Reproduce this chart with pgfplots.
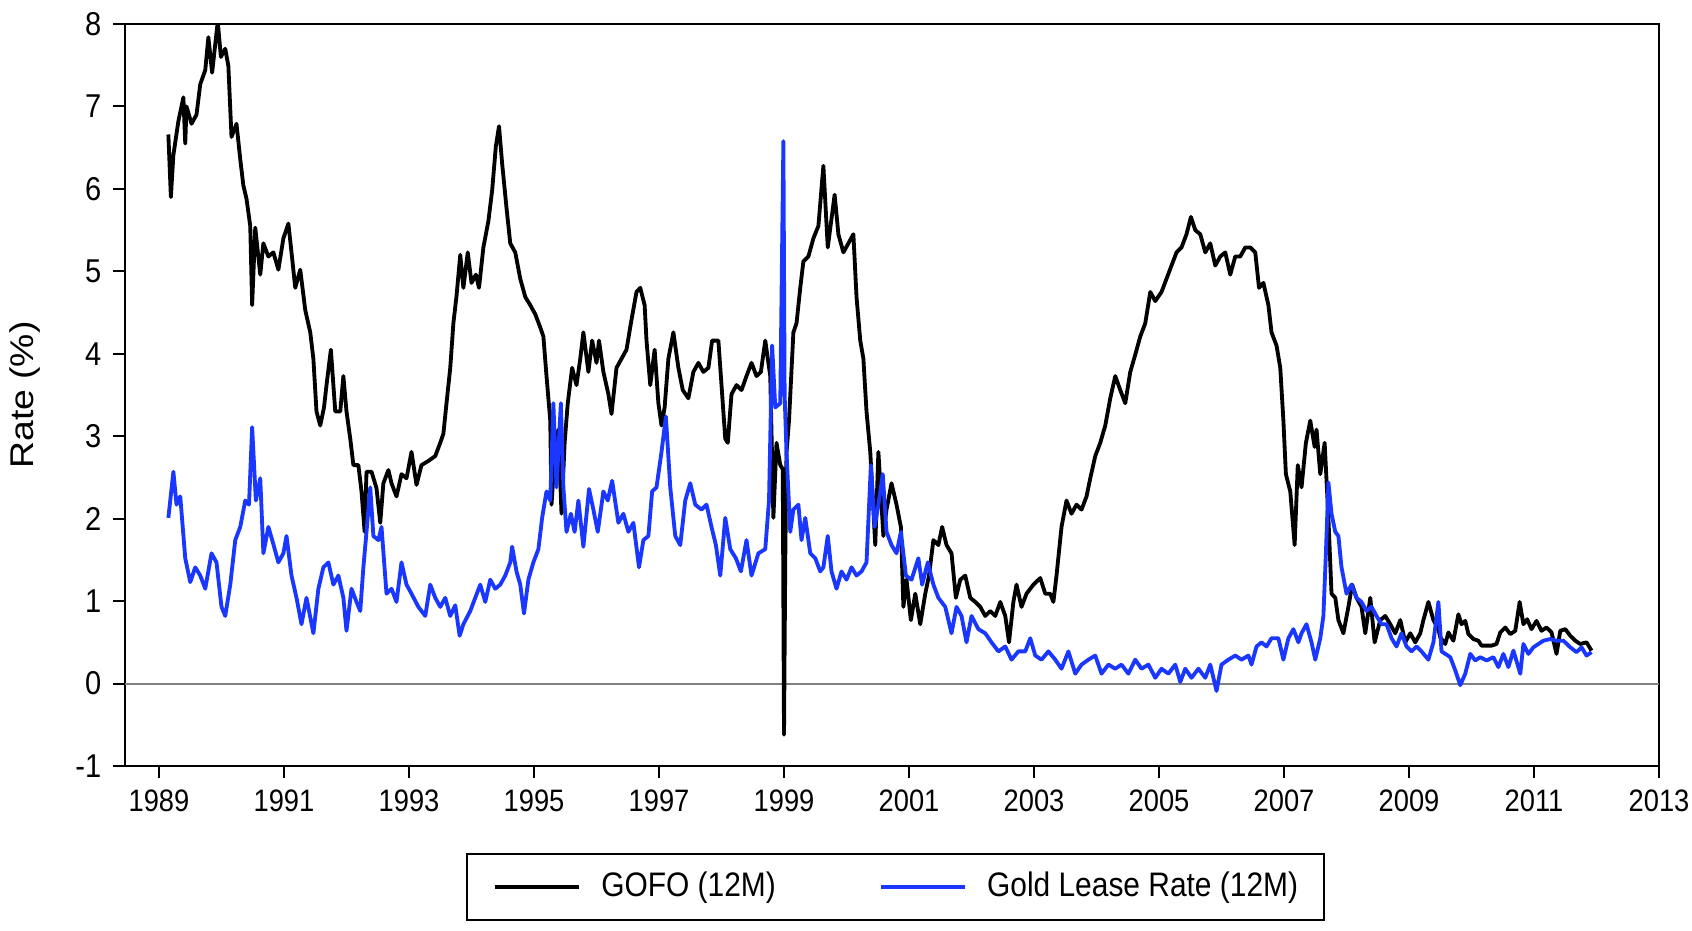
\documentclass[border=0pt]{standalone}
\usepackage{fontspec}
\setmainfont{Liberation Sans}
\usepackage{graphicx}
\usepackage{pgfplots}
\pgfplotsset{compat=1.18}
\definecolor{leaseblue}{RGB}{25,55,255}
\newcommand{\sq}[1]{\scalebox{0.88}[1]{#1}}

\pgfplotstableread{
x y
1989.15 6.66
1989.19 5.90
1989.23 6.41
1989.31 6.82
1989.39 7.11
1989.42 6.55
1989.44 7.00
1989.52 6.79
1989.60 6.90
1989.66 7.27
1989.74 7.44
1989.79 7.84
1989.85 7.41
1989.94 8.03
1989.99 7.60
1990.06 7.70
1990.11 7.49
1990.16 6.63
1990.24 6.79
1990.30 6.36
1990.35 6.04
1990.40 5.88
1990.46 5.55
1990.49 4.59
1990.54 5.53
1990.62 4.96
1990.67 5.34
1990.75 5.18
1990.83 5.23
1990.91 5.02
1990.99 5.40
1991.07 5.58
1991.12 5.23
1991.18 4.80
1991.26 5.02
1991.34 4.53
1991.42 4.26
1991.47 3.94
1991.52 3.30
1991.58 3.13
1991.64 3.35
1991.68 3.62
1991.75 4.05
1991.82 3.30
1991.90 3.30
1991.95 3.73
1992.00 3.30
1992.06 2.97
1992.11 2.65
1992.19 2.65
1992.24 2.33
1992.29 1.84
1992.32 2.57
1992.40 2.57
1992.48 2.37
1992.54 1.95
1992.59 2.43
1992.67 2.59
1992.72 2.43
1992.80 2.27
1992.88 2.54
1992.96 2.49
1993.04 2.81
1993.12 2.41
1993.20 2.65
1993.31 2.70
1993.42 2.76
1993.50 2.92
1993.55 3.03
1993.60 3.40
1993.66 3.83
1993.71 4.37
1993.76 4.70
1993.82 5.20
1993.87 4.80
1993.94 5.23
1994.00 4.86
1994.07 4.96
1994.12 4.80
1994.19 5.29
1994.27 5.61
1994.33 5.98
1994.39 6.52
1994.44 6.76
1994.49 6.31
1994.56 5.77
1994.62 5.34
1994.70 5.23
1994.78 4.91
1994.86 4.69
1994.94 4.59
1995.02 4.48
1995.10 4.32
1995.15 4.21
1995.20 3.73
1995.26 3.19
1995.28 2.17
1995.34 2.87
1995.39 3.08
1995.44 2.06
1995.49 2.92
1995.54 3.40
1995.61 3.83
1995.68 3.62
1995.74 3.94
1995.79 4.26
1995.87 3.78
1995.93 4.16
1996.00 3.89
1996.04 4.16
1996.11 3.78
1996.19 3.51
1996.24 3.27
1996.32 3.83
1996.40 3.94
1996.48 4.05
1996.55 4.37
1996.64 4.75
1996.70 4.80
1996.77 4.59
1996.80 4.16
1996.86 3.62
1996.93 4.05
1996.99 3.40
1997.04 3.13
1997.09 3.35
1997.15 3.94
1997.23 4.26
1997.31 3.83
1997.38 3.56
1997.47 3.46
1997.55 3.78
1997.63 3.89
1997.71 3.78
1997.79 3.83
1997.85 4.16
1997.95 4.16
1998.00 3.62
1998.06 2.97
1998.10 2.92
1998.16 3.51
1998.24 3.62
1998.32 3.56
1998.40 3.73
1998.48 3.89
1998.56 3.73
1998.63 3.78
1998.70 4.16
1998.78 3.73
1998.83 2.01
1998.88 2.92
1998.94 2.65
1998.98 2.60
1999.00 -0.62
1999.02 1.50
1999.04 2.80
1999.08 3.19
1999.15 4.26
1999.20 4.37
1999.26 4.80
1999.31 5.12
1999.39 5.18
1999.47 5.40
1999.55 5.55
1999.63 6.28
1999.70 5.29
1999.81 5.93
1999.87 5.45
1999.95 5.23
2000.03 5.34
2000.11 5.45
2000.16 4.69
2000.22 4.16
2000.27 3.94
2000.32 3.30
2000.38 2.81
2000.43 2.11
2000.46 1.68
2000.51 2.81
2000.59 1.79
2000.64 2.11
2000.72 2.43
2000.80 2.17
2000.87 1.90
2000.91 0.93
2000.96 1.26
2001.03 0.77
2001.10 1.09
2001.18 0.72
2001.26 1.09
2001.32 1.31
2001.39 1.74
2001.47 1.68
2001.53 1.90
2001.60 1.68
2001.68 1.58
2001.75 1.04
2001.82 1.26
2001.90 1.31
2001.98 1.04
2002.06 0.99
2002.14 0.93
2002.22 0.82
2002.30 0.88
2002.38 0.82
2002.46 0.99
2002.54 0.82
2002.60 0.50
2002.67 0.99
2002.72 1.20
2002.80 0.93
2002.88 1.09
2002.99 1.20
2003.10 1.28
2003.18 1.09
2003.26 1.09
2003.31 0.99
2003.36 1.31
2003.44 1.90
2003.52 2.22
2003.60 2.06
2003.68 2.17
2003.76 2.11
2003.84 2.27
2003.90 2.49
2003.98 2.76
2004.06 2.92
2004.14 3.13
2004.22 3.46
2004.30 3.73
2004.38 3.56
2004.46 3.40
2004.54 3.78
2004.62 3.99
2004.70 4.21
2004.78 4.37
2004.86 4.75
2004.94 4.64
2005.04 4.75
2005.12 4.91
2005.20 5.07
2005.28 5.23
2005.36 5.29
2005.44 5.45
2005.51 5.66
2005.58 5.50
2005.66 5.45
2005.74 5.23
2005.82 5.34
2005.90 5.07
2005.98 5.18
2006.06 5.23
2006.14 4.96
2006.22 5.18
2006.30 5.18
2006.38 5.29
2006.46 5.29
2006.54 5.23
2006.60 4.80
2006.67 4.86
2006.75 4.59
2006.80 4.26
2006.88 4.10
2006.94 3.83
2006.99 3.19
2007.03 2.54
2007.10 2.33
2007.17 1.68
2007.22 2.65
2007.28 2.38
2007.35 2.92
2007.42 3.19
2007.49 2.87
2007.52 3.08
2007.58 2.54
2007.65 2.92
2007.71 2.01
2007.76 1.09
2007.82 1.04
2007.87 0.77
2007.95 0.61
2008.03 0.93
2008.09 1.20
2008.16 1.04
2008.24 0.93
2008.30 0.61
2008.38 1.04
2008.45 0.50
2008.54 0.77
2008.62 0.82
2008.70 0.72
2008.78 0.61
2008.86 0.77
2008.94 0.50
2009.02 0.61
2009.10 0.50
2009.18 0.61
2009.23 0.77
2009.31 0.99
2009.39 0.77
2009.47 0.66
2009.50 0.56
2009.58 0.48
2009.63 0.62
2009.71 0.52
2009.79 0.84
2009.84 0.72
2009.90 0.76
2009.95 0.60
2010.03 0.54
2010.11 0.52
2010.16 0.46
2010.24 0.46
2010.32 0.46
2010.40 0.48
2010.46 0.62
2010.54 0.68
2010.62 0.60
2010.70 0.64
2010.77 0.99
2010.83 0.72
2010.89 0.78
2010.96 0.66
2011.04 0.76
2011.12 0.64
2011.20 0.68
2011.28 0.62
2011.36 0.36
2011.42 0.64
2011.50 0.66
2011.58 0.58
2011.66 0.52
2011.74 0.48
2011.84 0.50
2011.92 0.40
}\gofo

\pgfplotstableread{
x y
1989.15 2.01
1989.23 2.57
1989.28 2.17
1989.34 2.27
1989.42 1.52
1989.50 1.23
1989.58 1.41
1989.66 1.31
1989.74 1.15
1989.84 1.58
1989.92 1.47
1990.00 0.93
1990.06 0.82
1990.14 1.20
1990.22 1.74
1990.30 1.90
1990.38 2.22
1990.44 2.17
1990.49 3.11
1990.55 2.22
1990.62 2.49
1990.67 1.58
1990.75 1.90
1990.83 1.69
1990.91 1.47
1990.99 1.58
1991.04 1.79
1991.12 1.31
1991.20 1.04
1991.28 0.72
1991.36 1.04
1991.47 0.61
1991.55 1.15
1991.63 1.41
1991.71 1.47
1991.79 1.20
1991.87 1.31
1991.95 1.04
1992.00 0.64
1992.08 1.15
1992.16 0.99
1992.22 0.88
1992.27 1.41
1992.32 1.84
1992.38 2.38
1992.43 1.79
1992.51 1.74
1992.56 1.90
1992.64 1.09
1992.72 1.15
1992.80 0.99
1992.88 1.47
1992.96 1.20
1993.04 1.09
1993.15 0.93
1993.26 0.82
1993.34 1.20
1993.42 1.04
1993.50 0.93
1993.58 1.04
1993.66 0.82
1993.74 0.95
1993.81 0.58
1993.87 0.72
1993.98 0.88
1994.06 1.04
1994.14 1.20
1994.22 0.99
1994.30 1.26
1994.38 1.15
1994.46 1.20
1994.54 1.31
1994.62 1.47
1994.65 1.66
1994.72 1.36
1994.78 1.20
1994.84 0.85
1994.91 1.26
1994.99 1.47
1995.07 1.63
1995.13 2.01
1995.20 2.33
1995.26 2.22
1995.31 3.40
1995.36 2.38
1995.43 3.40
1995.47 2.38
1995.52 1.84
1995.59 2.06
1995.65 1.84
1995.71 2.22
1995.79 1.66
1995.88 2.36
1995.95 2.11
1996.02 1.84
1996.11 2.33
1996.18 2.22
1996.25 2.46
1996.35 1.95
1996.43 2.06
1996.51 1.84
1996.59 1.95
1996.68 1.41
1996.75 1.74
1996.83 1.79
1996.89 2.33
1996.96 2.38
1997.04 2.81
1997.11 3.24
1997.18 2.38
1997.26 1.79
1997.34 1.68
1997.42 2.22
1997.50 2.43
1997.58 2.17
1997.68 2.11
1997.76 2.17
1997.84 1.90
1997.91 1.68
1997.98 1.31
1998.06 2.01
1998.14 1.63
1998.23 1.52
1998.31 1.36
1998.40 1.74
1998.48 1.31
1998.59 1.58
1998.70 1.63
1998.76 2.22
1998.81 4.10
1998.86 3.35
1998.94 3.40
1998.99 6.58
1999.01 3.50
1999.04 2.80
1999.10 1.84
1999.15 2.11
1999.23 2.17
1999.28 1.74
1999.34 2.01
1999.42 1.58
1999.50 1.52
1999.58 1.36
1999.63 1.41
1999.70 1.79
1999.76 1.36
1999.84 1.15
1999.92 1.36
2000.00 1.26
2000.08 1.41
2000.16 1.31
2000.24 1.36
2000.32 1.47
2000.39 2.65
2000.45 1.90
2000.51 2.17
2000.58 2.54
2000.64 1.84
2000.72 1.68
2000.80 1.58
2000.87 1.84
2000.95 1.31
2001.04 1.26
2001.15 1.52
2001.21 1.20
2001.30 1.47
2001.39 1.20
2001.47 1.04
2001.58 0.93
2001.68 0.61
2001.76 0.93
2001.84 0.82
2001.92 0.50
2002.00 0.82
2002.11 0.66
2002.22 0.61
2002.32 0.50
2002.43 0.39
2002.54 0.45
2002.64 0.29
2002.75 0.39
2002.86 0.39
2002.94 0.55
2003.02 0.34
2003.12 0.29
2003.23 0.39
2003.34 0.29
2003.44 0.18
2003.55 0.39
2003.66 0.12
2003.76 0.23
2003.87 0.29
2003.98 0.34
2004.08 0.12
2004.19 0.23
2004.30 0.18
2004.40 0.23
2004.51 0.12
2004.62 0.29
2004.72 0.18
2004.83 0.23
2004.94 0.07
2005.04 0.18
2005.15 0.12
2005.26 0.23
2005.34 0.02
2005.42 0.18
2005.52 0.07
2005.63 0.18
2005.74 0.07
2005.82 0.23
2005.92 -0.09
2006.00 0.23
2006.11 0.29
2006.22 0.34
2006.32 0.29
2006.43 0.34
2006.48 0.23
2006.56 0.45
2006.64 0.50
2006.72 0.45
2006.80 0.55
2006.91 0.55
2006.99 0.29
2007.07 0.55
2007.15 0.66
2007.23 0.50
2007.28 0.61
2007.36 0.72
2007.44 0.50
2007.50 0.29
2007.58 0.55
2007.63 0.82
2007.67 1.58
2007.71 2.44
2007.76 2.06
2007.82 1.84
2007.87 1.79
2007.92 1.41
2008.00 1.09
2008.08 1.20
2008.16 1.04
2008.24 0.99
2008.32 0.88
2008.40 0.93
2008.48 0.82
2008.56 0.72
2008.64 0.72
2008.72 0.55
2008.80 0.45
2008.88 0.61
2008.96 0.45
2009.04 0.39
2009.12 0.45
2009.20 0.39
2009.31 0.29
2009.39 0.50
2009.47 0.99
2009.52 0.39
2009.58 0.36
2009.66 0.32
2009.74 0.16
2009.82 -0.02
2009.90 0.12
2009.98 0.36
2010.06 0.28
2010.14 0.32
2010.24 0.28
2010.35 0.32
2010.43 0.20
2010.51 0.36
2010.59 0.20
2010.67 0.40
2010.78 0.12
2010.83 0.48
2010.91 0.36
2010.99 0.44
2011.07 0.48
2011.15 0.52
2011.26 0.54
2011.36 0.52
2011.47 0.52
2011.58 0.44
2011.68 0.38
2011.76 0.44
2011.84 0.34
2011.92 0.38
}\lease

\begin{document}
\begin{tikzpicture}
\useasboundingbox (-37.5pt,-49.2pt) rectangle (470.1pt,229.8pt);
\begin{axis}[
  at={(0pt,0pt)}, anchor=south west,
  scale only axis, width=460.2pt, height=222.6pt,
  xmin=1988.456, xmax=2013, ymin=-1, ymax=8,
  xtick={1989,1991,1993,1995,1997,1999,2001,2003,2005,2007,2009,2011,2013},
  xticklabels={\sq{1989},\sq{1991},\sq{1993},\sq{1995},\sq{1997},\sq{1999},\sq{2001},\sq{2003},\sq{2005},\sq{2007},\sq{2009},\sq{2011},\sq{2013}},
  ytick={-1,0,1,2,3,4,5,6,7,8},
  yticklabels={\sq{-1},\sq{0},\sq{1},\sq{2},\sq{3},\sq{4},\sq{5},\sq{6},\sq{7},\sq{8}},
  tick align=outside, xtick pos=left, ytick pos=left,
  major tick length=3.6pt,
  tick style={black, line width=0.6pt},
  axis line style={line width=0.6pt},
  xticklabel style={font=\fontsize{9.3}{11}\selectfont},
  yticklabel style={font=\fontsize{9.9}{11}\selectfont},
  ylabel={\scalebox{1}[0.88]{Rate (\%)}},
  ylabel style={font=\fontsize{11.2}{13}\selectfont, at={(axis description cs:-0.0652,0.5)}, anchor=center},
  extra y ticks={0}, extra y tick labels={},
  extra y tick style={grid=major, major grid style={gray, line width=0.6pt}, major tick length=0pt},
  legend columns=2,
  legend image code/.code={\path (0pt,0pt); \draw[#1, line width=1.2pt] (0pt,0pt) -- (25.2pt,0pt);},
  legend style={
    at={(axis description cs:0.5024,0)}, anchor=north, yshift=-26.2pt,
    draw=black, line width=0.6pt,
    inner xsep=7.8pt, inner ysep=5.4pt,
    font=\fontsize{10.2}{12}\selectfont,
    nodes={inner xsep=0pt, inner ysep=0pt},
    /tikz/every odd column/.append style={column sep=6pt},
    /tikz/every even column/.append style={column sep=31pt},
  },
  legend cell align=left,
]
\addplot[black, line width=1.15pt, line join=round] table[x=x,y=y] {\gofo};
\addlegendentry{\sq{GOFO (12M)}}
\addplot[leaseblue, line width=1.15pt, line join=round] table[x=x,y=y] {\lease};
\addlegendentry{\sq{Gold Lease Rate (12M)}}
\end{axis}
\end{tikzpicture}
\end{document}
